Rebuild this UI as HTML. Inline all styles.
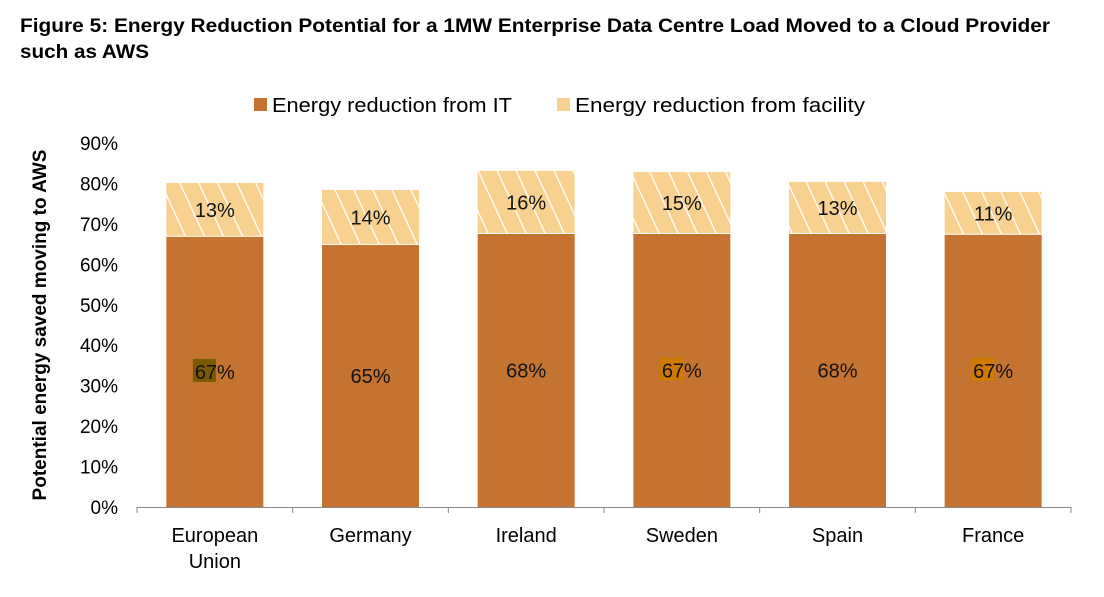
<!DOCTYPE html>
<html><head><meta charset="utf-8">
<style>
body{margin:0;background:#fff;font-family:"Liberation Sans",sans-serif;}
svg text{font-family:"Liberation Sans",sans-serif;}
</style></head>
<body>
<svg id="chart" width="1104" height="592" xmlns="http://www.w3.org/2000/svg">
<defs>
<pattern id="hatch" patternUnits="userSpaceOnUse" width="19" height="41">
<rect width="19" height="41" fill="#f8d190"/>
<path d="M0,0 L19,41 M-19,0 L0,41 M19,0 L38,41" stroke="#fff" stroke-width="1.3" fill="none"/>
</pattern>
</defs>
<text x="20" y="32" font-size="19" font-weight="bold" fill="#000" textLength="1030" lengthAdjust="spacingAndGlyphs">Figure 5: Energy Reduction Potential for a 1MW Enterprise Data Centre Load Moved to a Cloud Provider</text>
<text x="20" y="58" font-size="19" font-weight="bold" fill="#000" textLength="129" lengthAdjust="spacingAndGlyphs">such as AWS</text>
<g>
<rect x="254" y="98" width="13" height="13" fill="#c47430"/>
<text x="272" y="112" font-size="20" fill="#000" textLength="240" lengthAdjust="spacingAndGlyphs">Energy reduction from IT</text>
<rect x="557" y="98" width="13" height="13" fill="#f8d190"/>
<text x="575" y="112" font-size="20" fill="#000" textLength="290" lengthAdjust="spacingAndGlyphs">Energy reduction from facility</text>
</g>
<text transform="translate(46,325) rotate(-90)" text-anchor="middle" font-size="19" font-weight="bold" fill="#000">Potential energy saved moving to AWS</text>
<g id="yticks"></g>
<g id="bars"></g>
</svg>
<script>
const categories=[["European","Union"],["Germany"],["Ireland"],["Sweden"],["Spain"],["France"]];
const itValues=[66.8,64.8,67.5,67.5,67.5,67.3];
const facValues=[13.3,13.6,15.6,15.3,12.9,10.6];
const itLabels=["67%","65%","68%","67%","68%","67%"];
const facLabels=["13%","14%","16%","15%","13%","11%"];
const highlight=[ "#7a5a00",null,null,"#d07a00",null,"#d07a00"];
const yTicks=[0,10,20,30,40,50,60,70,80,90];

const NS="http://www.w3.org/2000/svg";
const x0=137,x1=1071,y0=507,yTop=143,yMax=90;
const y=v=>y0-(v/yMax)*(y0-yTop);
const band=(x1-x0)/categories.length;
const xc=i=>x0+band*(i+0.5);
const bw=97;
function mk(tag,attrs,parent){const e=document.createElementNS(NS,tag);for(const k in attrs)e.setAttribute(k,attrs[k]);parent.appendChild(e);return e;}
const yt=document.getElementById('yticks');
yTicks.forEach(t=>{
  const e=mk('text',{x:118,y:y(t)+7,'text-anchor':'end','font-size':19,fill:'#000'},yt);
  
  
  e.textContent=t+'%';
});
const bars=document.getElementById('bars');
categories.forEach((c,i)=>{
  const cx=xc(i);
  const b1=mk('rect',{x:cx-bw/2,y:y(itValues[i]),width:bw,height:y0-y(itValues[i]),fill:'#c47430'},bars);
  
  
  const top=itValues[i]+facValues[i];
  const b2=mk('rect',{x:cx-bw/2,y:y(top),width:bw,height:y(itValues[i])-y(top)-1,fill:'url(#hatch)'},bars);
  
  
  const ly=(y(0)+y(itValues[i]))/2;
  if(highlight[i]){
    const h=mk('rect',{x:cx-22,y:ly-13,width:23,height:23,fill:highlight[i]},bars);
    
    
  }
  const l1=mk('text',{x:cx,y:ly+7,'text-anchor':'middle','font-size':20,fill:'#111'},bars);
  
  
  l1.textContent=itLabels[i];
  const l2=mk('text',{x:cx,y:(y(top)+y(itValues[i]))/2+7,'text-anchor':'middle','font-size':20,fill:'#111'},bars);
  
  
  l2.textContent=facLabels[i];
  c.forEach((line,j)=>{
    const t=mk('text',{x:cx,y:542+j*26,'text-anchor':'middle','font-size':20,fill:'#000'},bars);
    
    
    t.textContent=line;
  });
});
const ax=mk('line',{x1:x0,x2:x1,y1:y0+0.5,y2:y0+0.5,stroke:'#888','stroke-width':1},bars);


for(let i=0;i<=categories.length;i++){
  const tk=mk('line',{x1:x0+band*i,x2:x0+band*i,y1:y0,y2:y0+6,stroke:'#888','stroke-width':1},bars);
  
  
}
</script>
</body></html>
